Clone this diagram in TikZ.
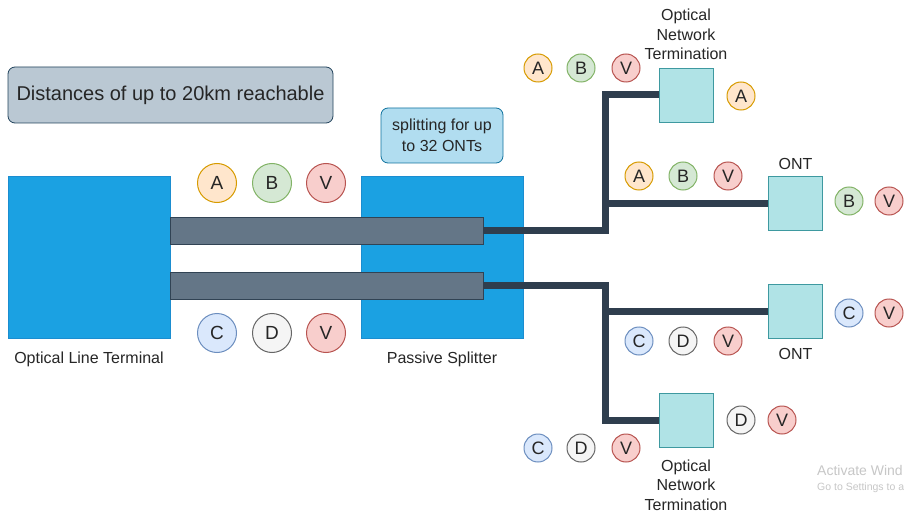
\documentclass[tikz,border=0pt]{standalone}
\usepackage{fontspec}
\setmainfont{Liberation Sans}
\usetikzlibrary{positioning}

\definecolor{blueFill}{HTML}{1BA1E2}
\definecolor{blueLine}{HTML}{1B8DD0}
\definecolor{fibFill}{HTML}{647687}
\definecolor{fibLine}{HTML}{314354}
\definecolor{cableCol}{HTML}{2F3E4E}
\definecolor{ontFill}{HTML}{B0E3E6}
\definecolor{ontLine}{HTML}{0E8088}
\definecolor{noteFill}{HTML}{BAC8D3}
\definecolor{noteLine}{HTML}{23445D}
\definecolor{splitFill}{HTML}{B1DDF0}
\definecolor{splitLine}{HTML}{10739E}
\definecolor{aFill}{HTML}{FFE6CC}\definecolor{aLine}{HTML}{D79B00}
\definecolor{bFill}{HTML}{D5E8D4}\definecolor{bLine}{HTML}{82B366}
\definecolor{vFill}{HTML}{F8CECC}\definecolor{vLine}{HTML}{B85450}
\definecolor{cFill}{HTML}{DAE8FC}\definecolor{cLine}{HTML}{6C8EBF}
\definecolor{dFill}{HTML}{F5F5F5}\definecolor{dLine}{HTML}{666666}

\begin{document}
\begin{tikzpicture}[x=1pt, y=-1pt,
    device/.style={rectangle, draw=blueLine, fill=blueFill, line width=0.8pt, inner sep=0, minimum width=162, minimum height=162},
    fiber/.style={rectangle, draw=fibLine, fill=fibFill, line width=0.8pt, inner sep=0, minimum width=313, minimum height=27},
    cable/.style={draw=cableCol, line width=7pt, line join=miter},
    onu/.style={rectangle, draw=ontLine!80, fill=ontFill, line width=0.9pt, inner sep=0, minimum size=54},
    label/.style={align=center, font=\fontsize{16}{19.5}\selectfont, text=black!85},
    sig/.style={circle, line width=1pt, inner sep=0, minimum size=28, font=\fontsize{18}{20}\selectfont, text=black!85},
    bigsig/.style={sig, minimum size=39, font=\fontsize{19}{21}\selectfont},
    sigA/.style={draw=aLine, fill=aFill},
    sigB/.style={draw=bLine, fill=bFill},
    sigV/.style={draw=vLine, fill=vFill},
    sigC/.style={draw=cLine, fill=cFill},
    sigD/.style={draw=dLine, fill=dFill}]
    \useasboundingbox[fill=white] (0,0) rectangle (904,513);

    % boxes
    \node[device] (olt) at (89,257) {};
    \node[device] (splitter) at (442,257) {};
    \node[fiber] (fib1) at (326.5,230.5) {};
    \node[fiber] (fib2) at (326.5,285.5) {};

    \node[label, below=10pt of olt] (oltlbl) {Optical Line Terminal};
    \node[label, below=10pt of splitter] (splitlbl) {Passive Splitter};

    \node[rectangle, rounded corners=7pt, draw=noteLine, fill=noteFill, line width=0.8pt, minimum width=325, minimum height=56, font=\fontsize{20}{24}\selectfont, text=black!85] (dist) at (170.5,95) {Distances of up to 20km reachable};
    \node[rectangle, rounded corners=7pt, draw=splitLine, fill=splitFill, line width=0.8pt, minimum width=122, minimum height=55, align=center, font=\fontsize{16}{21}\selectfont, text=black!85] (splitnote) at (442,135.5) {splitting for up\\to 32 ONTs};

    % terminations
    \node[onu] (ont1) at (686,95) {};
    \node[onu] (ont2) at (795.5,203.5) {};
    \node[onu] (ont3) at (795.5,311.5) {};
    \node[onu] (ont4) at (686,420.5) {};

    \node[label, above=4pt of ont1] (ont1lbl) {Optical\\Network\\Termination};
    \node[label, above=3pt of ont2] (ont2lbl) {ONT};
    \node[label, below=6pt of ont3] (ont3lbl) {ONT};
    \node[label, below=8pt of ont4] (ont4lbl) {Optical\\Network\\Termination};

    % cables
    \coordinate (j1) at (605,230.5);
    \coordinate (j2) at (605,285.5);
    \draw[cable] (fib1.east) -- (j1) |- (ont1);
    \draw[cable] (j1) |- (ont2);
    \draw[cable] (fib2.east) -- (j2) |- (ont4);
    \draw[cable] (j2) |- (ont3);

    % signals on the feeder fibres
    \node[bigsig, sigA] (fa) at (217,183) {A};
    \node[bigsig, sigB] (fb) at (272,183) {B};
    \node[bigsig, sigV] (fv) at (326,183) {V};
    \node[bigsig, sigC] (fc) at (217,333) {C};
    \node[bigsig, sigD] (fd) at (272,333) {D};
    \node[bigsig, sigV] (fw) at (326,333) {V};

    % signals on the branches
    \node[sig, sigA] (t1a) at (538,68) {A};
    \node[sig, sigB] (t1b) at (581,68) {B};
    \node[sig, sigV] (t1v) at (626,68) {V};
    \node[sig, sigA] (r1a) at (741,96) {A};

    \node[sig, sigA] (t2a) at (639,176) {A};
    \node[sig, sigB] (t2b) at (683,176) {B};
    \node[sig, sigV] (t2v) at (728,176) {V};
    \node[sig, sigB] (r2b) at (849,201) {B};
    \node[sig, sigV] (r2v) at (889,201) {V};

    \node[sig, sigC] (r3c) at (849,313) {C};
    \node[sig, sigV] (r3v) at (889,313) {V};
    \node[sig, sigC] (t3c) at (639,341) {C};
    \node[sig, sigD] (t3d) at (683,341) {D};
    \node[sig, sigV] (t3v) at (728,341) {V};

    \node[sig, sigD] (r4d) at (741,420) {D};
    \node[sig, sigV] (r4v) at (782,420) {V};
    \node[sig, sigC] (t4c) at (538,448) {C};
    \node[sig, sigD] (t4d) at (581,448) {D};
    \node[sig, sigV] (t4v) at (626,448) {V};

    % watermark, as far as it shows
    \node[anchor=west, inner sep=0, text=black!22, font=\fontsize{14}{16}\selectfont] (wm1) at (817,470) {Activate Wind};
    \node[anchor=west, inner sep=0, text=black!22, font=\fontsize{10.5}{12}\selectfont] (wm2) at (817,488) {Go to Settings to a};
\end{tikzpicture}
\end{document}
